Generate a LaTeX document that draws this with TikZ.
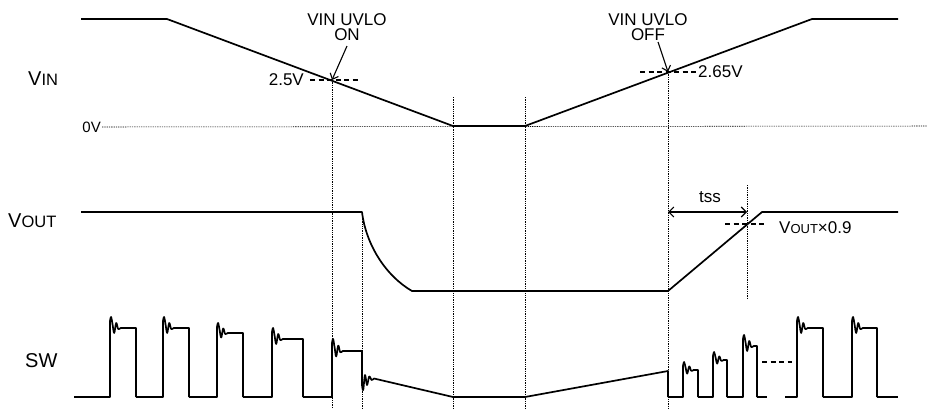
\documentclass[tikz,border=0pt]{standalone}
\usepackage{fontspec}
\setmainfont{Liberation Sans}
\usetikzlibrary{arrows.meta}
\newcommand\signame[4]{{\fontsize{#3}{#3}\selectfont #1}{\fontsize{#4}{#4}\selectfont #2}}
\begin{document}
\begin{tikzpicture}[x=1pt,y=-1pt,
  wave/.style={line width=1.7pt, line join=round},
  vgrid/.style={line width=0.55pt, dash pattern=on 1.3pt off 1pt},
  levelline/.style={line width=1.1pt, dash pattern=on 5pt off 3.5pt},
  txt/.style={font=\fontsize{17}{15.5}\selectfont, inner sep=0pt},
  ptr/.style={line width=1.1pt, -{Straight Barb[length=5pt,width=9pt]}},
  dimarrow/.style={line width=1.1pt, {Straight Barb[length=5pt,width=10pt]}-{Straight Barb[length=5pt,width=10pt]}}]
\useasboundingbox (0,0) rectangle (927,408);

% ---------- signal names ----------
\node[anchor=base west, inner sep=0pt] (nvin) at (28,85) {\signame{V}{IN}{20}{16.5}};
\node[anchor=base west, inner sep=0pt] (nvout) at (8,227) {\signame{V}{OUT}{20}{16.5}};
\node[anchor=base west, inner sep=0pt, font=\fontsize{20}{20}\selectfont] (nsw) at (25,367) {SW};

% ---------- key coordinates ----------
\coordinate (on)  at (332,80);
\coordinate (off) at (668,72);
\coordinate (dec) at (362,212);
\coordinate (vz1) at (453,97);
\coordinate (vz2) at (525,97);
\coordinate (ss)  at (747,185);
\coordinate (onB)  at (332,408);
\coordinate (decB) at (362,408);
\coordinate (vz1B) at (453,408);
\coordinate (vz2B) at (525,408);
\coordinate (offB) at (668,408);
\coordinate (ssB)  at (747,298);

% ---------- grid lines ----------
\node[anchor=east, inner sep=1pt, font=\fontsize{15}{15}\selectfont] (zero) at (102,127) {0V};
\coordinate (zeroEnd) at (927,126);
\draw[vgrid] (zero.east) -- (zeroEnd);
\draw[vgrid] (on) -- (onB);
\draw[vgrid] (dec) -- (decB);
\draw[vgrid] (vz1) -- (vz1B);
\draw[vgrid] (vz2) -- (vz2B);
\draw[vgrid] (off) -- (offB);
\draw[vgrid] (ss) -- (ssB);

% ---------- VIN ----------
\draw[wave] (81,19) -- (167,19) -- (453,126) -- (525,126) -- (812,19) -- (898,19);
\node[txt, align=center] (lon) at (347,27) {VIN UVLO\\ON};
\node[txt, align=center] (loff) at (648,27) {VIN UVLO\\OFF};
\coordinate (lonTail) at (347,46);
\coordinate (loffTail) at (658,42);
\draw[ptr] (lonTail) -- (on);
\draw[ptr] (loffTail) -- (off);
\node[txt, anchor=east] (v25) at (304,80) {2.5V};
\coordinate (v25a) at (310,80); \coordinate (v25b) at (360,80);
\draw[levelline] (v25a) -- (v25b);
\node[txt, anchor=west] (v265) at (698,72) {2.65V};
\coordinate (v265a) at (640,72); \coordinate (v265b) at (697,72);
\draw[levelline] (v265a) -- (v265b);

% ---------- VOUT ----------
\draw[wave] (81,212) -- (362,212) .. controls (366,245) and (386,276) .. (412,291) -- (668,291) -- (762,212) -- (898,212);
\coordinate (tssA) at (668,212); \coordinate (tssB) at (747,212);
\draw[dimarrow] (tssA) -- (tssB);
\node[txt] (tss) at (710,197) {tss};
\coordinate (l09a) at (725,224); \coordinate (l09b) at (765,224);
\draw[levelline] (l09a) -- (l09b);
\node[anchor=west, inner sep=0pt] (v09) at (779,228) {\signame{V}{OUT}{17}{13}{\fontsize{17}{17}\selectfont ×0.9}};

% ---------- SW ----------
\foreach \a/\r/\f/\s/\p in {74/110/136/328/317, 136/163/189/328/317, 189/217/243/333/323, 243/272/303/339/328,
                           668/683/698/370/362, 698/713/727/360/352, 727/743/757/346/335,
                           785/797/823/328/317, 823/852/877/328/317}{
  \pgfmathsetmacro\A{\s-\p}
  \draw[wave] (\a,397) -- (\r,397) -- plot[smooth,tension=0.6] coordinates
     {(\r,\p+4) (\r+1.1,\p) (\r+2.6,\p+0.7*\A) (\r+4.2,\s+0.45*\A) (\r+6.2,\s-0.45*\A) (\r+8.2,\s+0.1*\A) (\r+10.5,\s)}
     -- (\f,\s) -- (\f,397);
}
\draw[wave] (303,397) -- (332,397) -- plot[smooth,tension=0.6] coordinates
     {(332,343) (333.1,339) (334.6,347.4) (336.2,356.4) (338.2,345.6) (340.2,352.2) (342.5,351)}
     -- (362,351) -- (362,385) -- plot[smooth,tension=0.6] coordinates
     {(362,385) (363.2,390) (365,375) (367,385) (369.2,376.5) (371.5,380) (374,378.5)}
     -- (453,397) -- (525,397) -- (668,371) -- (668,397);
\draw[wave] (757,397) -- (767,397);
\draw[wave] (877,397) -- (898,397);
\coordinate (gapA) at (762,362); \coordinate (gapB) at (792,362);
\draw[levelline] (gapA) -- (gapB);
\end{tikzpicture}
\end{document}
